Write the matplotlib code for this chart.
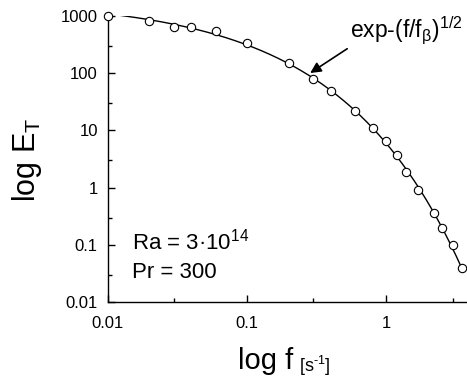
import numpy as np
import matplotlib
matplotlib.use("Agg")
import matplotlib.pyplot as plt

plt.rcParams['font.family'] = ['Liberation Sans', 'DejaVu Sans']
plt.rcParams['mathtext.fontset'] = 'custom'
plt.rcParams['mathtext.rm'] = 'Liberation Sans'
plt.rcParams['mathtext.it'] = 'Liberation Sans'
plt.rcParams['mathtext.bf'] = 'Liberation Sans:bold'

freq = [0.01, 0.02, 0.03, 0.04, 0.06, 0.1, 0.2, 0.3, 0.4, 0.6, 0.8, 1.0,
        1.2, 1.4, 1.7, 2.2, 2.5, 3.0, 3.5]
energy = [1000, 818, 644, 630, 549, 340, 149, 78.7, 48, 21.5, 10.8, 6.5,
          3.67, 1.84, 0.916, 0.356, 0.198, 0.098, 0.0395]

# fit E = A*exp(-(f/fb)^0.5)
coef = np.polyfit(np.sqrt(freq), np.log(energy), 1)
f_fit = np.logspace(np.log10(0.01), np.log10(3.5), 300)
e_fit = np.exp(np.polyval(coef, np.sqrt(f_fit)))

W, H = 467, 379
fig = plt.figure(figsize=(W / 100, H / 100), dpi=100)
ax = fig.add_axes([0.2302, 0.2024, 0.7696, 0.7562])
ax.plot(f_fit, e_fit, color='black', lw=1.0, zorder=2)
ax.plot(freq, energy, 'o', ms=6, mfc='white', mec='black', mew=0.8, zorder=3,
        clip_on=False)

ax.set_xscale('log')
ax.set_yscale('log')
ax.set_xlim(0.01, 3.8)
ax.set_ylim(0.01, 1000)
for s in ['top', 'right']:
    ax.spines[s].set_visible(False)
for s in ['left', 'bottom']:
    ax.spines[s].set_linewidth(1.0)

ax.set_xticks([0.01, 0.1, 1])
ax.set_xticklabels(['0.01', '0.1', '1'])
ax.set_xticks([0.03, 0.3, 3], minor=True)
ax.set_yticks([0.01, 0.1, 1, 10, 100, 1000])
ax.set_yticklabels(['0.01', '0.1', '1', '10', '100', '1000'])
ax.set_yticks([0.03, 0.3, 3, 30, 300], minor=True)
ax.yaxis.set_minor_formatter(matplotlib.ticker.NullFormatter())
ax.xaxis.set_minor_formatter(matplotlib.ticker.NullFormatter())
ax.tick_params(which='major', direction='in', length=5, width=1.0, labelsize=12)
ax.tick_params(which='minor', direction='in', length=3, width=1.0)
ax.tick_params(axis='x', which='major', pad=10)
ax.tick_params(axis='y', which='major', pad=7)

fig.text(27 / W, 1 - 160 / H, r'log E$_\mathrm{T}$', fontsize=22, rotation=90,
         ha='center', va='center')
fig.text(238 / W, 1 - 369 / H, 'log f', fontsize=21, ha='left', va='baseline')
fig.text(299 / W, 1 - 372 / H, '[s$^{\u2010\\mathrm{1}}$]', fontsize=13,
         ha='left', va='baseline')

ax.text(0.068, 0.1825, r'Ra = 3·10$^{14}$', transform=ax.transAxes, fontsize=16,
        va='baseline')
ax.text(0.068, 0.0837, 'Pr = 300', transform=ax.transAxes, fontsize=16,
        va='baseline')

ax.annotate(r'exp-(f/f$_\beta$)$^{1/2}$', xy=(0.285, 100), xycoords='data',
            xytext=(350 / W, 1 - 38 / H), textcoords='figure fraction',
            fontsize=16.5, ha='left', va='baseline',
            arrowprops=dict(arrowstyle='-|>', color='black', lw=1.2,
                            mutation_scale=16, shrinkA=0, shrinkB=0,
                            relpos=(0, 0)))

fig.savefig('out.png', dpi=100)
